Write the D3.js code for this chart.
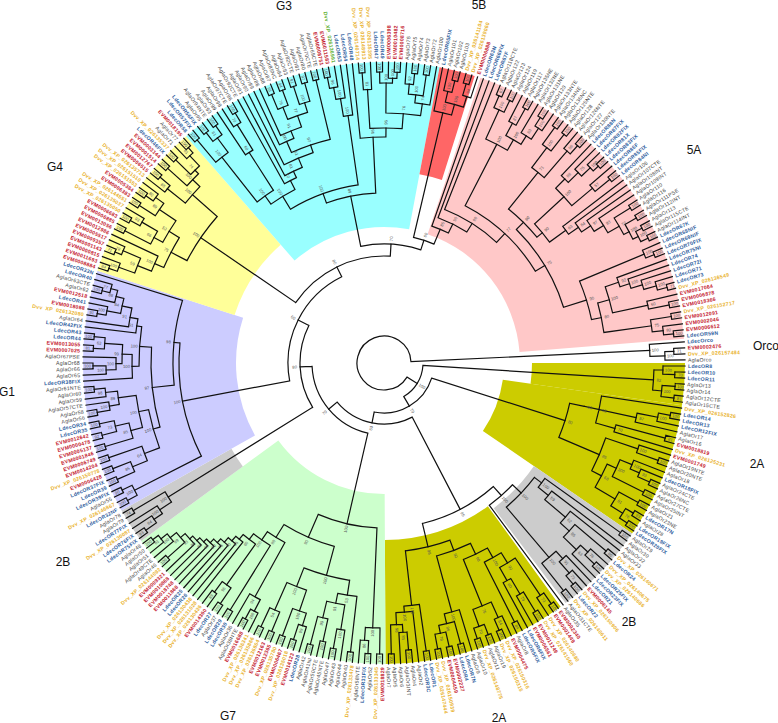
<!DOCTYPE html>
<html>
<head>
<meta charset="utf-8">
<script src="https://cdn.jsdelivr.net/npm/d3@7"></script>
<style>
  html, body { margin: 0; background: #fff; }
  text { font-family: "Liberation Sans", Arial, sans-serif; }
</style>
</head>
<body>
<div id="chart"></div>
<script>
// tree data: newick per clade, internal nodes written as )support:depth
var upper2A = "((LdecOR8,(LdecOR10,LdecOR11)70:291)100:279,((AglaOr13,AglaOr14)100:292,(AglaOr12CTE,AglaOr15CTE)81:292)100:279)82:270";
var lower2A = "((Dvv_XP_026152826,(((LdecOR14,LdecOR13)100:291,LdecOR12FIX)100:279,AglaOr17)87:258,((AglaOr16,EVM0018819)81:291,Dvv_XP_026125231)70:240)93:220)90:205," +
  "((EVM0001749,(AglaOr19NTE,AglaOr20NTE)100:291)100:268," +
  "(((AglaOr18,(LdecOR18FIX,(AglaOr24CTE,AglaOr26NC)100:291)93:278)100:268,(AglaOr27CTE,AglaOr25INT)100:290)100:255," +
  "((AglaOr21,AglaOr23NE)100:290,((LdecOR17N,AglaOr28)93:291,(LdecOR19FIX,LdecOR20FIX)100:291)76:282)81:268)68:245)85:234";
var gray2B = "(((AglaOr29,AglaOr30)100:291,(AglaOr32,(AglaOr33,((Dvv_XP_026140671,LdecOR24)80:291,((Dvv_XP_026140675,(Dvv_XP_026140686,LdecOR25FIX)100:291)76:278,LdecOR23FIX)63:268)85:250)62:238)59:211)100:198," +
  "((LdecOR21,(EVM0006145,(Dvv_XP_026150906,LdecOR22)100:291)73:280)91:265,(Dvv_XP_026140611,AglaOr31CTE)100:290)100:255)100:189";
var bottom2A = "(((((((EVM0002340,EVM0001449)100:293,Dvv_XP_026140680)73:280,(((Dvv_XP_026141560,EVM0011249)100:291,EVM0006561)79:268,LdecOR6FIX)60:250)90:235,(LdecOR5FIX,AglaOr8)84:290)100:223," +
  "((EVM0004475,(Dvv_XP_026150316,Dvv_XP_026150315)100:291)84:279,((AglaOr19,AglaOr11)100:291,(Dvv_XP_026148775,AglaOr10)100:291)70:280)75:262)98:212," +
  "(AglaOr9,((LdecOR7N,LdecOR4)100:291,((EVM0002227,EVM0004459)100:291,(Dvv_XP_026150939,Dvv_XP_026147444)100:291)78:276)96:268)100:258)90:200," +
  "((LdecOR1,LdecOR3C)100:291,(AglaOr2,(((AglaOr4,AglaOr3INT)100:288,AglaOr6)85:270,(AglaOr5,AglaOr7)100:291)98:262)100:250)100:244)98:189";
var cladeG7 = "(((EVM0018829,Dvv_XP_026133345)100:291,((AglaOr52,LdecOR31FIX)100:291,AglaOr58NTE)86:278)100:265," +
  "((((Dvv_XP_026133478,AglaOr40)100:291,((AglaOr44,(AglaOr43,AglaOr47)100:290)100:270,((AglaOr45NTE,AglaOr50CTE)100:285,(AglaOr41NI,AglaOr42)100:291)90:262)91:245)53:235," +
  "(((LdecOR28,(EVM0014123,Dvv_XP_026135018)100:291)89:275,(EVM0006467,Dvv_XP_026135780)100:291)100:262,((EVM0012365,EVM0012163)100:291,(Dvv_XP_026136864,Dvv_XP_026135866)100:291)54:270)100:240)100:220," +
  "(((Dvv_XP_026136341,(EVM0016688,AglaOr38NTE)100:291)100:280,AglaOr36)94:267," +
  "((LdecOR30,LdecOR29)100:291,(((AglaOr37,LdecOR27)100:291,(EVM0014360,Dvv_XP_026130436)89:285)96:272," +
  "(Dvv_XP_026131028,(Dvv_XP_026130438,(LdecOR26,(LdecOR25,(EVM0011868,(EVM0018748,(EVM0010868,(EVM0009321,((Dvv_XP_026144092,AglaOr46)100:291,(AglaOr49CTE,(AglaOr51,(AglaOr50,AglaOr48)100:291)81:284)100:276)69:268)93:262)90:258)88:254)85:250)80:245)75:240)70:234)65:228)60:222)100:215)89:205)90:190)100:165";
var left2B = "((((LdecOR75FIX,LdecOR76FIX)93:291,Dvv_XP_026130087)64:278,LdecOR77FIX)100:268,(AglaOr79,AglaOr78)74:291)100:254";
var cladeG1 = "(((LdecOR32NF,Dvv_XP_026146867)100:291,(AglaOr55,LdecOR39FIX)90:291)100:280," +
  "((((((LdecOR39,LdecOR37FIX)100:291,(EVM0006428,Dvv_XP_026150778)100:291)85:272,(EVM0014204,EVM0006749)100:291)64:256," +
  "(((EVM0001846,EVM0005137)100:291,((EVM0000478,EVM0012642)92:291,(LdecOR35,LdecOR34)100:291)73:276)85:262," +
  "(((AglaOr56,AglaOr58)100:291,AglaOr57CTE)100:278,(AglaOr59,(AglaOr60,AglaOr61NTE)100:291)98:280)89:268)100:250)100:240," +
  "((LdecOR38FIX,(((AglaOr65,(AglaOr66,AglaOr68)100:291)100:278,AglaOr67PSE)100:268,((EVM0007025,EVM0013055)81:291,(LdecOR44,LdecOR43)100:291)63:280)99:262)100:252," +
  "(LdecOR42FIX,(AglaOr64,(((Dvv_XP_026132080,EVM0018088)91:291,LdecOR41)100:282,(EVM0012518,((AglaOr62,AglaOr63CTE)100:291,LdecOR40)77:283)88:276)84:268)91:258)91:250)100:245)97:233,LdecOR33N)98:211)100:205";
var cladeG4 = "((((((EVM0008884,EVM0011693)84:291,EVM0000815)100:282,((EVM0001143,EVM0009357)71:291,EVM0005517)78:284)59:265,EVM0012986)100:250," +
  "(((EVM0013056,EVM0006885)100:291,((EVM0006683,Dvv_XP_026135050)100:291,Dvv_XP_026135037)93:280)66:262," +
  "((Dvv_XP_026144551,EVM0006383)100:291,((EVM0005384,Dvv_XP_026151553)100:291,Dvv_XP_026151510)80:282)89:272)52:252)75:240," +
  "((Dvv_XP_026135713,(EVM0006515,EVM0012767)100:291)85:278," +
  "((EVM0001514,EVM0003144)100:291,((LdecOR46FIX,Dvv_XP_026135337)100:291,(AglaOr71,(AglaOr77,EVM0018195)100:291)81:284)74:270)100:265)100:255)100:222";
var cladeG3 = "((((((LdecOR58,LdecOR57FIX)100:291,((LdecOR56FIX,AglaOr95)100:291,(AglaOr94NTE,AglaOr93)100:291)81:280)100:262," +
  "(AglaOr99,(AglaOr98,(AglaOr97CTE,AglaOr96)100:291)70:280)60:250)100:205," +
  "(AglaOr92CTE,(AglaOr91,(AglaOr90,((AglaOr89,(AglaOr86,(((AglaOr88,AglaOr87)93:291,(AglaOr85NC,AglaOr84)94:291)79:275,((AglaOr83,AglaOr82CTE)91:291,(AglaOr81,AglaOr80)97:291)100:272)77:262)91:250)100:242,(AglaOr70CTE,AglaOr69CTE)100:291)97:230)51:222)81:212)70:205)100:195," +
  "((((EVM0008751,EVM0011583)100:291,Dvv_XP_026136991)96:280,LdecOR53)100:268,LdecOR54)100:250)100:180," +
  "(LdecOR48,(((Dvv_XP_026140714,Dvv_XP_026148913)100:291,Dvv_XP_026135395)81:274," +
  "(((LdecOR47,LdecOR49)100:291,(EVM0006398,(EVM0010482,EVM0008716)100:291)100:285)100:280,(((AglaOr76,(AglaOr75,AglaOr74)100:291)92:280,(AglaOr73,AglaOr72)100:291)100:270,AglaOr100)74:262)76:250)96:235)96:226)89:170";
var clade5B = "(LdecOR65FIX,((AglaOr101,(AglaOr102,AglaOr103)100:291)100:279,((Dvv_XP_026141104,Dvv_XP_026139060)100:291,EVM0006888)94:279)100:268)100:257";
var clade5A_A = "(((AglaOr118CTE,AglaOr122)87:291,(AglaOr123,AglaOr124)100:291)100:278,((AglaOr119,(AglaOr117,AglaOr135NE)100:291)87:272,(AglaOr132NE,((AglaOr131NE,AglaOr120)100:291,AglaOr133NTE)100:281)63:268)100:258)100:246";
var clade5A_D = "(((AglaOr134NE,AglaOr136NC)100:291,(AglaOr125NTE,AglaOr128)100:291)100:270,(AglaOr126NTE,(AglaOr127,AglaOr130NTE)100:291)96:280)71:245";
var clade5A_E = "((LdecOR88N,(LdecOR87FIX,(LdecOR82FIX,(LdecOR81X,LdecOR83FIX)100:291)100:284)75:272)88:258,(LdecOR86F,(LdecOR85FIX,LdecOR84NI)100:291)57:272)100:245";
var clade5A_F = "(AglaOr106,(AglaOr107CTE,(AglaOr108INT,(AglaOr109INT,((AglaOr110,AglaOr116)100:291,((AglaOr111PSE,AglaOr112INT)100:291,((AglaOr113,AglaOr115CTE)100:291,(AglaOr114INT,LdecOR67K)100:292)100:284)100:278)72:272)93:259)97:248)84:237)63:225";
var clade5A_C = "((LdecOR68NIF,(LdecOR69NIF,LdecOR70FIX)100:291)100:282," +
  "(((LdecOR75NI,(LdecOR74,(LdecOR72I,(LdecOR71,(LdecOR73,Dvv_XP_026136549)71:293)100:283)100:270)100:258)92:248,(EVM0017064,(EVM0006878,EVM0018366)100:291)60:270)100:234," +
  "((Dvv_XP_026152717,EVM0012091)100:291,(EVM0002046,(EVM0006612,LdecOR59N)100:291)80:281)75:270)80:222)90:212";
var cladeOrco = "(LdecOrco,((EVM0002476,Dvv_XP_026157484)71:290,AglaOrco)100:281)100:266";

var tipDepth = 301;
var treeString =
  "((" + upper2A + ",((" + lower2A + ")80:190," +
  "(((" + gray2B + ",AglaOr35)100:177," + bottom2A + ")95:165," +
  "(" + cladeG7 + "," +
  "(" + left2B + "," +
  "(" + cladeG1 + "," +
  "(" + cladeG4 + "," +
  "(" + cladeG3 + "," +
  "(" + clade5B + "," +
  "(LdecOR63N,(LdecOR66FIX,(LdecOR67F,(" + clade5A_A + ",((" + clade5A_D + ",(" + clade5A_E + "," + clade5A_F + ")90:205)80:198," + clade5A_C + ")75:188)77:177)99:165)90:155)85:145" +
  ")60:129)70:119)80:107)60:96)80:84)70:72)60:61)70:50)100:39," + cladeOrco + "):27";

// sector: first leaf, last leaf, inner depth, colour key
var sectorFirst = ["LdecOR8", "Dvv_XP_026152826", "AglaOr29", "EVM0002340", "EVM0018829", "LdecOR75FIX", "LdecOR32NF", "EVM0008884", "LdecOR58", "LdecOR65FIX", "LdecOR63N"];
var sectorLast = ["AglaOr15CTE", "LdecOR20FIX", "AglaOr31CTE", "AglaOr7", "AglaOr48", "AglaOr78", "LdecOR33N", "EVM0018195", "AglaOr100", "Dvv_XP_026139060", "LdecOR59N"];
var sectorInner = [148, 120, 182, 177, 131, 175, 148, 157, 136, 192, 136];
var sectorKeys = ["olive", "olive", "gray", "olive", "green", "gray", "purple", "yellow", "cyan", "red", "pink"];

var cladeNames = ["G3", "5B", "5A", "Orco", "2A", "2B", "2A", "G7", "2B", "G1", "G4"];

var sectorColor = { olive: "#CCCC00", gray: "#CCCCCC", green: "#CCFFCC", purple: "#CCCCFF", yellow: "#FFFF99", cyan: "#99FFFF", red: "#FF6666", pink: "#FFC8C8" };
var cladeNamePos = [[284, 10], [479, 9], [694, 154], [766, 350], [757, 468], [629, 626], [499, 722], [228, 720], [63, 566], [7, 396], [55, 171]];

var width = 778, height = 723, cx = 384, cy = 363;

function parseTree(s) {
  var i = 0;
  function node() {
    var n = {};
    if (s[i] === "(") {
      i++;
      n.children = [node()];
      while (s[i] === ",") { i++; n.children.push(node()); }
      i++;
    }
    var t = "";
    while (i < s.length && ",()".indexOf(s[i]) < 0) t += s[i++];
    var p = t.split(":");
    if (n.children) { n.support = p[0]; n.depth = +p[1]; }
    else { n.name = p[0]; n.depth = tipDepth; }
    return n;
  }
  return node();
}

function leafColor(name) {
  if (name === "Dvv_XP_026136991") return "#5DAE2F";
  if (name.indexOf("Ldec") === 0) return "#2F5E9E";
  if (name.indexOf("EVM") === 0) return "#C4202E";
  if (name.indexOf("Dvv") === 0) return "#E9B22E";
  return "#444";
}

var root = d3.hierarchy(parseTree(treeString));
d3.cluster().size([360, 1]).separation(function() { return 1; })(root);

var rotation = 90;
var r = d3.scaleLinear().domain([0, tipDepth]).range([0, tipDepth]);
var ang = function(d) { return (d.x + rotation) * Math.PI / 180; };
var leaves = root.leaves();
var step = 360 / leaves.length;
var leafByName = {};
leaves.forEach(function(l) { leafByName[l.data.name] = l; });

function polar(a, rad) { return [rad * Math.sin(a), -rad * Math.cos(a)]; }

var svg = d3.select("#chart").append("svg").attr("width", width).attr("height", height);
var g = svg.append("g").attr("transform", "translate(" + [cx, cy] + ")");

// coloured clade backgrounds
var sectorArc = d3.arc();
g.append("g").selectAll("path").data(sectorKeys).enter().append("path")
  .attr("fill", function(d) { return sectorColor[d]; })
  .attr("d", function(d, i) {
    var a = leafByName[sectorFirst[i]], b = leafByName[sectorLast[i]];
    return sectorArc({
      innerRadius: r(sectorInner[i]),
      outerRadius: r(tipDepth),
      startAngle: (a.x - step / 2 + rotation) * Math.PI / 180,
      endAngle: (b.x + step / 2 + rotation) * Math.PI / 180
    });
  });

// branches
function branchPath(d) {
  var p = d3.path(), rad = r(d.data.depth);
  var first = d.children[0], last = d.children[d.children.length - 1];
  var a0 = ang(first) - Math.PI / 2, a1 = ang(last) - Math.PI / 2;
  p.moveTo(rad * Math.cos(a0), rad * Math.sin(a0));
  p.arc(0, 0, rad, a0, a1, false);
  d.children.forEach(function(c) {
    var a = ang(c), s = polar(a, rad), e = polar(a, r(c.data.depth));
    p.moveTo(s[0], s[1]);
    p.lineTo(e[0], e[1]);
  });
  return p.toString();
}

g.append("g").selectAll("path").data(root.descendants().filter(function(d) { return d.children; })).enter().append("path")
  .attr("d", branchPath)
  .attr("fill", "none")
  .attr("stroke", "#111")
  .attr("stroke-width", 1.2)
  .attr("stroke-linecap", "square");

// support values
g.append("g").selectAll("text").data(root.descendants().filter(function(d) { return d.children && d.data.support; })).enter().append("text")
  .attr("transform", function(d) {
    var deg = d.x + rotation - 90, flip = ((d.x + rotation) % 360) > 180;
    return "rotate(" + deg + ") translate(" + (r(d.data.depth) + 5.5) + ",0)" + (flip ? " rotate(180)" : "");
  })
  .attr("dy", "0.35em")
  .attr("text-anchor", "middle")
  .attr("font-size", 4.2)
  .attr("fill", "#555")
  .text(function(d) { return d.data.support; });

// tip labels
g.append("g").selectAll("text").data(leaves).enter().append("text")
  .attr("transform", function(d) {
    var deg = d.x + rotation - 90, flip = ((d.x + rotation) % 360) > 180;
    return "rotate(" + deg + ") translate(" + (r(tipDepth) + 3) + ",0)" + (flip ? " rotate(180)" : "");
  })
  .attr("dy", "0.35em")
  .attr("text-anchor", function(d) { return ((d.x + rotation) % 360) > 180 ? "end" : "start"; })
  .attr("font-size", 5.2)
  .attr("letter-spacing", 0.25)
  .attr("font-weight", function(d) { return /^Agla/.test(d.data.name) ? "normal" : "bold"; })
  .attr("fill", function(d) { return leafColor(d.data.name); })
  .text(function(d) { return d.data.name; });

// clade names
svg.append("g").selectAll("text").data(cladeNames).enter().append("text")
  .attr("x", function(d, i) { return cladeNamePos[i][0]; })
  .attr("y", function(d, i) { return cladeNamePos[i][1]; })
  .attr("text-anchor", "middle")
  .attr("font-size", 12)
  .attr("fill", "#111")
  .text(function(d) { return d; });
</script>
</body>
</html>
